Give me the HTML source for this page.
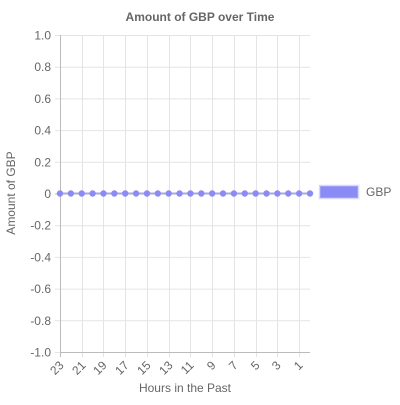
<!DOCTYPE html>
<html><head><meta charset="utf-8"><style>
body{margin:0;background:#fff;font-family:"Liberation Sans",sans-serif}
</style></head><body>
<svg width="400" height="400" font-family="Liberation Sans, sans-serif">
<text x="200" y="21" text-anchor="middle" font-size="12" font-weight="bold" fill="#666">Amount of GBP over Time</text>
<g id="grid"></g>
<g id="yt"></g>
<g id="xt"></g>
<text transform="translate(15,193) rotate(-90)" text-anchor="middle" font-size="12" fill="#666">Amount of GBP</text>
<text x="185" y="392" text-anchor="middle" font-size="12" fill="#666">Hours in the Past</text>
<g id="series"></g>
<rect x="319.5" y="185.5" width="39" height="13" fill="#8b8bf5" stroke="#d8d8f8" stroke-width="1.5"/>
<text x="366" y="196" font-size="12" fill="#666">GBP</text>
</svg>
<script>
const hours=[23,22,21,20,19,18,17,16,15,14,13,12,11,10,9,8,7,6,5,4,3,2,1,0];
const values=[0,0,0,0,0,0,0,0,0,0,0,0,0,0,0,0,0,0,0,0,0,0,0,0];
const yTicks=[1.0,0.8,0.6,0.4,0.2,0,-0.2,-0.4,-0.6,-0.8,-1.0];
const NS="http://www.w3.org/2000/svg";
const x0=60,x1=310,yTop=35,yBot=352;
const xs=i=>x0+i*(x1-x0)/(hours.length-1);
const ys=v=>yTop+(1-v)/2*(yBot-yTop);
function mk(t,a,p){const e=document.createElementNS(NS,t);for(const k in a)e.setAttribute(k,a[k]);p.appendChild(e);return e;}
const g=document.getElementById('grid'),yt=document.getElementById('yt'),xt=document.getElementById('xt'),s=document.getElementById('series');
yTicks.forEach(v=>{const y=ys(v)+0.5;
const l=mk('line',{x1:x0-5,x2:x1,y1:y,y2:y,stroke:v===0?'#bbb':'#e4e4e4'},g);


const t=mk('text',{x:x0-9,y:y+4,'text-anchor':'end','font-size':'12',fill:'#666'},yt);
t.textContent=v===0?'0':v.toFixed(1);

});
hours.forEach((h,i)=>{if(i%2)return;const x=Math.round(xs(i))+0.5;
const l=mk('line',{x1:x,x2:x,y1:yTop,y2:yBot+5,stroke:i===0?'#bbb':'#e4e4e4'},g);


const t=mk('text',{transform:`translate(${x+4},${yBot+14}) rotate(-45)`,'text-anchor':'end','font-size':'12',fill:'#666'},xt);
t.textContent=h;

});
mk('line',{x1:x0+0.5,x2:x0+0.5,y1:yTop,y2:yBot,stroke:'#bbb'},g);
mk('line',{x1:x0,x2:x1,y1:yBot+0.5,y2:yBot+0.5,stroke:'#bbb'},g);
const pl=mk('polyline',{points:values.map((v,i)=>xs(i)+','+ys(v)).join(' '),fill:'none',stroke:'#a8a8d8','stroke-width':2},s);


values.forEach((v,i)=>{const c=mk('circle',{cx:xs(i),cy:ys(v),r:3.2,fill:'#8b8bf5'},s);

});
</script>
</body></html>
